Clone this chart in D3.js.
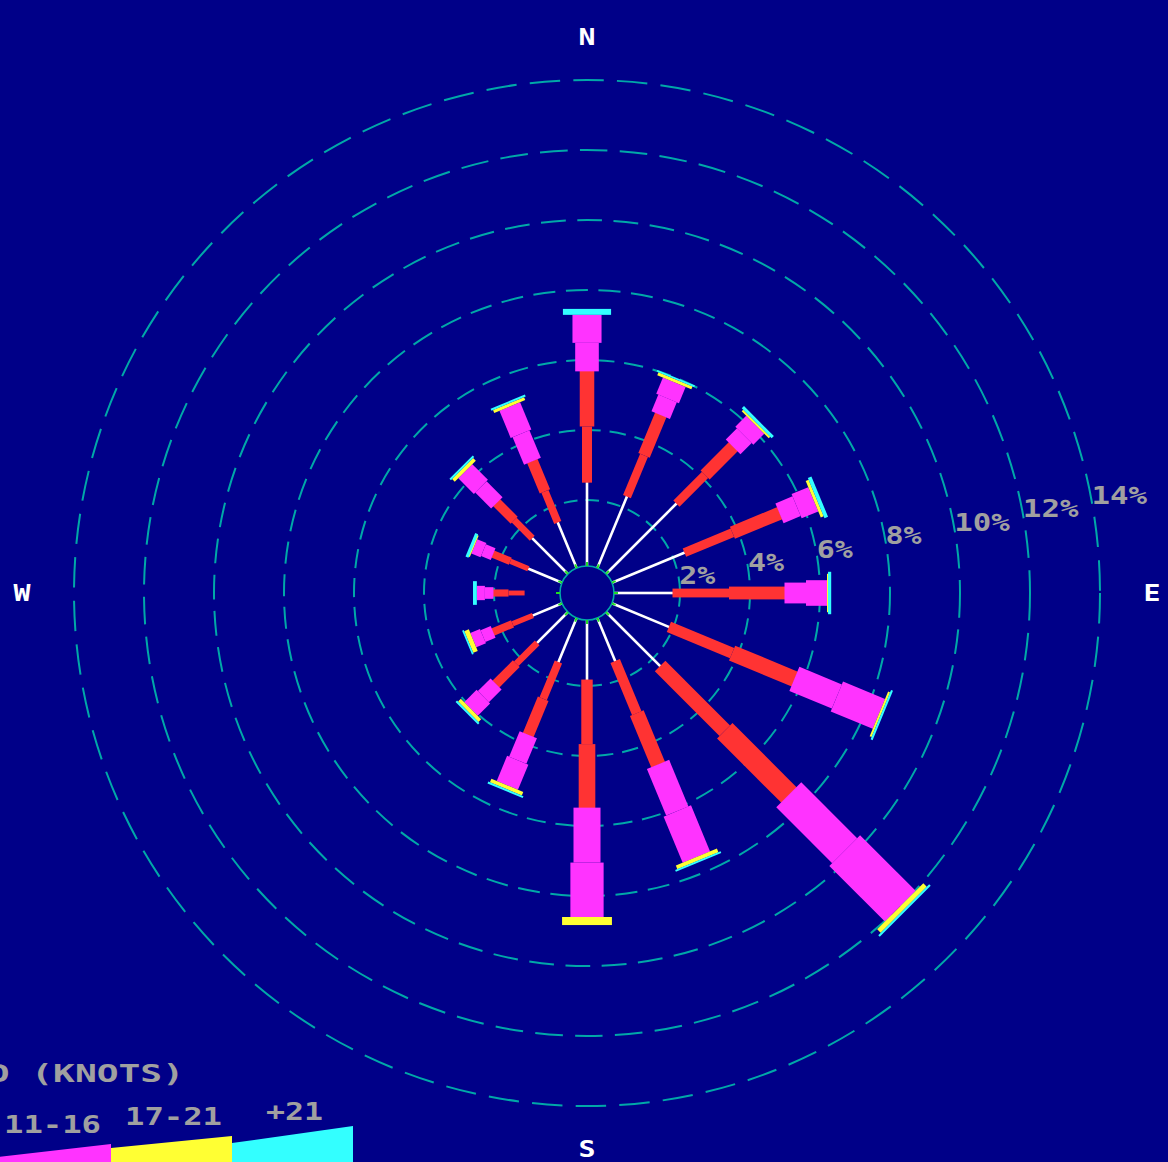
<!DOCTYPE html>
<html><head><meta charset="utf-8">
<script src="https://cdn.jsdelivr.net/npm/d3@7"></script>
<style>html,body{margin:0;padding:0;background:#000088;overflow:hidden}</style>
</head><body><svg id="c" width="1168" height="1162"></svg>
<script>
// ---- data ----
const directions = ["N","NNE","NE","ENE","E","ESE","SE","SSE","S","SSW","SW","WSW","W","WNW","NW","NNW"];
const speedClasses = ["1-3","4-10","11-16","17-21","+21"];
const light    = [2.51,2.34,2.97,2.37,1.80,1.89,2.31,1.46,1.83,1.49,1.37,1.03,1.14,1.17,1.57,1.54];
const moderate = [3.18,2.52,2.29,2.94,3.20,3.88,5.20,3.20,3.66,2.25,1.66,1.23,0.89,1.09,1.43,1.89];
const fresh    = [1.60,1.00,0.88,1.03,1.20,2.60,4.49,2.85,3.11,1.55,1.00,0.60,0.46,0.57,1.26,1.68];
const strong   = [0.00,0.09,0.06,0.09,0.03,0.06,0.14,0.11,0.23,0.11,0.11,0.14,0.00,0.03,0.11,0.09];
const gale     = [0.17,0.03,0.09,0.11,0.09,0.06,0.06,0.03,0.00,0.06,0.06,0.03,0.11,0.09,0.06,0.06];
const lightDrawn = [1,1,1,1,1,1,1,1,1,1,1,1,0,1,1,1];
const ringValues = [2,4,6,8,10,12,14];
const ringLabels = ["2%","4%","6%","8%","10%","12%","14%"];
const compassLabels = ["N","E","S","W"];
const legendTitle = "WIND SPEED (KNOTS)";

// ---- style ----
const BG="#000088", RING="#00a8a8", GRAY="#a0a0a0";
const colors = ["#ffffff","#ff3333","#ff33ff","#ffff33","#33ffff"];
const cx=587, cy=593;
const svg=d3.select("#c");
svg.append("rect").attr("width",1168).attr("height",1162).attr("fill",BG);

const r = d3.scaleLinear().domain([0,14]).range([23,513]);

function pixText(g, str, x, y, size, fill, adv, anchor){
  const len = str.length*adv - adv*0.15;
  let sx = x;
  if(anchor==="middle") sx = x - len/2;
  if(anchor==="end") sx = x - len;
  return g.append("text").attr("x",sx).attr("y",y)
    .attr("font-family","'DejaVu Sans Mono', monospace").attr("font-weight","bold")
    .attr("font-size",size).attr("fill",fill)
    .attr("textLength",len).attr("lengthAdjust","spacingAndGlyphs").text(str);
}

// rings
const gR = svg.append("g");
ringValues.forEach(v=>{
  const rr=r(v);
  gR.append("circle").attr("cx",cx).attr("cy",cy).attr("r",rr)
    .attr("fill","none").attr("stroke",RING).attr("stroke-width",2)
    .attr("stroke-dasharray",`${(10+0.04*rr).toFixed(1)} ${(7+0.012*rr).toFixed(1)}`);
});

// spokes
const series=[light,moderate,fresh,strong,gale];
const gS = svg.append("g");
directions.forEach((d,i)=>{
  const ang = i*22.5;
  const total = series.reduce((s,a)=>s+a[i],0);
  const s = 0.2 + 0.095*total;
  const g = gS.append("g").attr("transform",`translate(${cx},${cy}) rotate(${ang})`);
  let acc=0;
  series.forEach((arr,k)=>{
    const v=arr[i];
    const a=acc, b=acc+v; acc=b;
    if(v<=0) return;
    const r0=r(a), r1=r(b);
    if(k===0){
      if(!lightDrawn[i]) return;
      g.append("rect").attr("x",-1.3).attr("y",-r1).attr("width",2.6).attr("height",r1-r0).attr("fill",colors[0]);
    } else if(k===1 || k===2){
      const wi = (k===1?11:26)*s, wo=(k===1?16:32)*s;
      const rm=(r0+r1)/2;
      g.append("rect").attr("x",-wi/2).attr("y",-rm).attr("width",wi).attr("height",rm-r0+0.5).attr("fill",colors[k]);
      g.append("rect").attr("x",-wo/2).attr("y",-r1).attr("width",wo).attr("height",r1-rm).attr("fill",colors[k]);
    } else {
      const w=(k===3?48:53)*s;
      const h=Math.max(r1-r0,1.8);
      g.append("rect").attr("x",-w/2).attr("y",-(r0+h)).attr("width",w).attr("height",h).attr("fill",colors[k]);
    }
  });
});

// calm circle
svg.append("circle").attr("cx",cx).attr("cy",cy).attr("r",27).attr("fill",BG)
  .attr("stroke",RING).attr("stroke-width",1.6);
directions.forEach((d,i)=>{
  const a=i*22.5*Math.PI/180;
  svg.append("line").attr("x1",cx+27*Math.sin(a)).attr("y1",cy-27*Math.cos(a))
    .attr("x2",cx+31*Math.sin(a)).attr("y2",cy-31*Math.cos(a))
    .attr("stroke","#22dd22").attr("stroke-width",2);
});

// ring labels
const la = 11*Math.PI/180;
ringValues.forEach((v,j)=>{
  const rr=r(v);
  pixText(svg, ringLabels[j], cx+rr*Math.cos(la)+1, cy-rr*Math.sin(la)+9, 25, GRAY, 19.5, "start");
});

// compass labels
const compassPos = [[0,-1],[1,0],[0,1],[-1,0]];
compassLabels.forEach((t,j)=>{
  const [ux,uy]=compassPos[j];
  const R = ux!==0 ? 565 : 556;
  pixText(svg, t, cx+ux*R, cy+uy*R+8, 23, "#ffffff", 20, "middle");
});

// legend
const segW=121, x0=-252;
const legTopStart=[1170,1166,1158,1148,1143], legTopEnd=[1166,1158,1144,1136,1126];
const legLabelY=[1145,1139,1133,1125,1120];
speedClasses.forEach((c,k)=>{
  const xa=x0+k*segW, xb=xa+segW;
  svg.append("polygon").attr("points",`${xa},1175 ${xa},${legTopStart[k]} ${xb},${legTopEnd[k]} ${xb},1175`).attr("fill",colors[k]);
  pixText(svg, c, (xa+xb)/2 + 2, legLabelY[k], 25, GRAY, 20, "middle");
});
pixText(svg, legendTitle, 184, 1082, 25, GRAY, 22, "end");
</script></body></html>
